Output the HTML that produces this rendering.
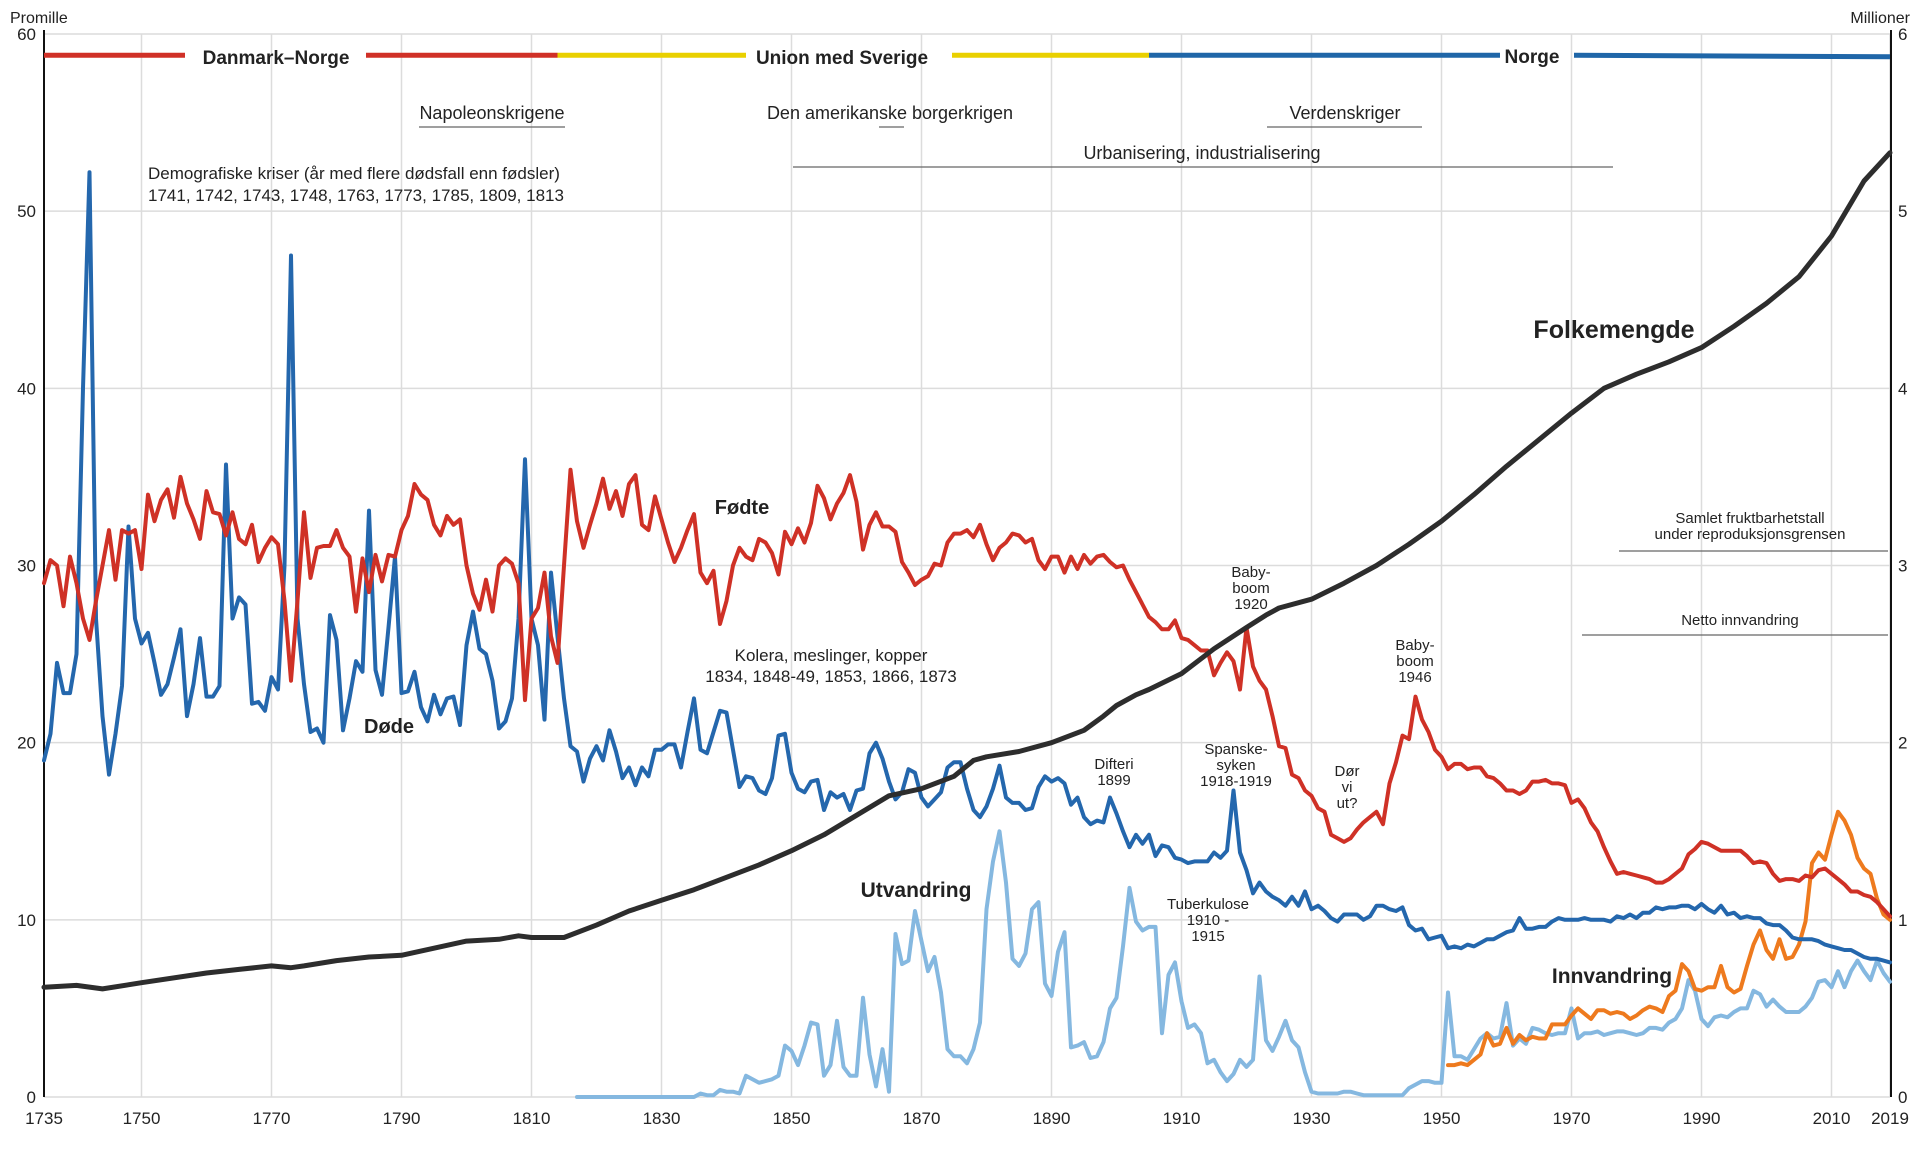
<!DOCTYPE html>
<html><head><meta charset="utf-8">
<style>
html,body{margin:0;padding:0;background:#fff}
svg{display:block}
text{font-family:"Liberation Sans",sans-serif;fill:#222}
</style></head>
<body>
<svg id="chart" width="1920" height="1155" xmlns="http://www.w3.org/2000/svg"></svg>
<script>
// ---- data ----
const startYear = 1735, endYear = 2019;
const xTicks = [1735,1750,1770,1790,1810,1830,1850,1870,1890,1910,1930,1950,1970,1990,2010,2019];
const yTicksLeft = [0,10,20,30,40,50,60];
const yTicksRight = [0,1,2,3,4,5,6];
const birthsStart = 1735;
const births = [
29,30.3,30,27.7,30.5,29,27,25.8,28,30,32,29.2,32,31.8,32,
29.8,34,32.5,33.7,34.3,32.7,35,33.5,32.6,31.5,34.2,33,32.9,31.7,33,31.5,31.2,32.3,30.2,31,
31.6,31.2,28,23.5,28,33,29.3,31,31.1,31.1,32,31,30.5,27.4,30.4,28.5,30.6,29.1,30.6,30.5,
32,32.8,34.6,34,33.7,32.3,31.7,32.8,32.3,32.6,30,28.4,27.5,29.2,27.4,30,30.4,30.1,29,22.4,
27,27.6,29.6,26,24.5,30,35.4,32.5,31,32.3,33.5,34.9,33.2,34.2,32.8,34.6,35.1,32.3,32,33.9,
32.6,31.3,30.2,31,32,32.9,29.6,29,29.7,26.7,28,30,31,30.5,30.3,31.5,31.3,30.7,29.5,31.9,
31.2,32.1,31.3,32.4,34.5,33.8,32.6,33.5,34.1,35.1,33.6,30.9,32.3,33,32.2,32.2,31.9,30.2,29.6,28.9,
29.2,29.4,30.1,30,31.3,31.8,31.8,32,31.6,32.3,31.2,30.3,31,31.3,31.8,31.7,31.3,31.5,30.3,29.8,
30.5,30.5,29.6,30.5,29.8,30.6,30.1,30.5,30.6,30.2,29.9,30,29.2,28.5,27.8,27.1,26.8,26.4,26.4,26.9,
25.9,25.8,25.5,25.2,25.2,23.8,24.5,25.1,24.6,23,26.5,24.3,23.5,23,21.5,19.8,19.7,18.2,18,17.3,
17,16.3,16.1,14.8,14.6,14.4,14.6,15.1,15.5,15.8,16.1,15.4,17.7,18.9,20.4,20.2,22.6,21.3,20.6,19.6,
19.2,18.5,18.8,18.8,18.5,18.6,18.6,18.1,18,17.7,17.3,17.3,17.1,17.3,17.8,17.8,17.9,17.7,17.7,17.6,
16.6,16.8,16.3,15.5,15,14.1,13.3,12.6,12.7,12.6,12.5,12.4,12.3,12.1,12.1,12.3,12.6,12.9,13.7,14,
14.4,14.3,14.1,13.9,13.9,13.9,13.9,13.6,13.2,13.3,13.2,12.6,12.2,12.3,12.3,12.2,12.5,12.4,12.8,12.9,
12.6,12.3,12,11.6,11.6,11.4,11.3,11,10.6,10.2];
const deathsStart = 1735;
const deaths = [
19,20.5,24.5,22.8,22.8,25,40,52.2,27,21.5,18.2,20.5,23.2,32.2,27,
25.6,26.2,24.5,22.7,23.3,24.8,26.4,21.5,23.3,25.9,22.6,22.6,23.2,35.7,27,28.2,27.8,22.2,22.3,21.8,
23.7,23,30,47.5,27,23.3,20.6,20.8,20,27.2,25.8,20.7,22.5,24.6,24,33.1,24.1,22.7,26.5,30.5,
22.8,22.9,24,22,21.2,22.7,21.6,22.5,22.6,21,25.5,27.4,25.3,25,23.5,20.8,21.2,22.5,27,36,
27,25.5,21.3,29.6,26,22.5,19.8,19.5,17.8,19.1,19.8,19,20.7,19.5,18,18.6,17.6,18.6,18.1,19.6,
19.6,19.9,19.9,18.6,20.6,22.5,19.6,19.4,20.6,21.8,21.7,19.6,17.5,18.1,18,17.3,17.1,18,20.4,20.5,
18.3,17.4,17.2,17.8,17.9,16.2,17.2,16.9,17.1,16.2,17.3,17.4,19.4,20,19.1,17.8,16.8,17.2,18.5,18.3,
16.9,16.4,16.8,17.2,18.6,18.9,18.9,17.4,16.2,15.8,16.4,17.4,18.7,16.9,16.6,16.6,16.2,16.3,17.5,18.1,
17.8,18,17.7,16.5,16.9,15.8,15.4,15.6,15.5,16.9,16,15,14.1,14.8,14.3,14.8,13.6,14.2,14.1,13.5,
13.4,13.2,13.3,13.3,13.3,13.8,13.5,13.9,17.3,13.8,12.8,11.5,12.1,11.6,11.3,11.1,10.8,11.3,10.8,11.6,
10.6,10.8,10.5,10.1,9.9,10.3,10.3,10.3,10,10.2,10.8,10.8,10.6,10.5,10.7,9.7,9.4,9.5,8.9,9,
9.1,8.4,8.5,8.4,8.6,8.5,8.7,8.9,8.9,9.1,9.3,9.4,10.1,9.5,9.5,9.6,9.6,9.9,10.1,10,
10,10,10.1,10,10,10,9.9,10.2,10.1,10.3,10.1,10.4,10.4,10.7,10.6,10.7,10.7,10.8,10.8,10.6,
10.9,10.6,10.4,10.8,10.3,10.4,10.1,10.2,10.1,10.1,9.8,9.7,9.7,9.4,9,8.9,8.9,8.9,8.8,8.6,
8.5,8.4,8.3,8.3,8.1,7.9,7.8,7.8,7.7,7.6];
const popYears = [1735,1740,1744,1750,1760,1765,1770,1773,1775,1780,1785,1790,1795,1800,1805,1808,1810,1815,1820,1825,1830,1835,1840,1845,1850,1855,1860,1865,1870,1875,1878,1880,1885,1890,1895,1898,1900,1903,1905,1910,1915,1920,1923,1925,1930,1935,1940,1945,1950,1955,1960,1965,1970,1975,1980,1985,1990,1995,2000,2005,2010,2015,2019];
const popMillions = [0.62,0.63,0.61,0.645,0.70,0.72,0.74,0.73,0.74,0.77,0.79,0.80,0.84,0.88,0.89,0.91,0.90,0.90,0.97,1.05,1.11,1.17,1.24,1.31,1.39,1.48,1.59,1.70,1.74,1.81,1.90,1.92,1.95,2.0,2.07,2.15,2.21,2.27,2.30,2.39,2.53,2.65,2.72,2.76,2.81,2.90,3.00,3.12,3.25,3.40,3.56,3.71,3.86,4.00,4.08,4.15,4.23,4.35,4.48,4.63,4.86,5.17,5.33];
const emigStart = 1817;
const emigration = [
0,0,0,0,0,0,0,0,0,0,0,0,0,0,0,0,0,0,0,0.2,0.1,0.1,0.4,0.3,0.3,0.2,1.2,1.0,0.8,0.9,1.0,1.2,2.9,
2.6,1.8,2.9,4.2,4.1,1.2,1.8,4.3,1.7,1.2,1.2,5.6,2.4,0.6,2.7,0.3,9.2,7.5,7.7,10.5,
8.8,7.1,7.9,5.9,2.7,2.3,2.3,1.9,2.7,4.2,10.6,13.3,15.0,12.1,7.8,7.4,8.1,10.6,11.0,6.4,
5.7,8.2,9.3,2.8,2.9,3.1,2.2,2.3,3.1,5.0,5.6,8.5,11.8,9.9,9.4,9.6,9.6,3.6,6.9,7.6,
5.4,3.9,4.1,3.6,1.9,2.1,1.4,0.9,1.3,2.1,1.7,2.1,6.8,3.2,2.6,3.4,4.3,3.2,2.8,1.4,
0.3,0.2,0.2,0.2,0.2,0.3,0.3,0.2,0.1,0.1,0.1,0.1,0.1,0.1,0.1,0.5,0.7,0.9,0.9,0.8,
0.8,5.9,2.3,2.3,2.1,2.7,3.3,3.6,3.3,3.4,5.3,2.9,3.3,3.0,3.9,3.8,3.6,3.5,3.6,3.6,
5.0,3.3,3.6,3.6,3.7,3.5,3.6,3.7,3.7,3.6,3.5,3.6,3.9,3.9,3.8,4.2,4.4,5.0,6.6,6.0,
4.4,4.0,4.5,4.6,4.5,4.8,5.0,5.0,6.0,5.8,5.1,5.5,5.1,4.8,4.8,4.8,5.1,5.6,6.5,6.6,
6.2,7.1,6.2,7.1,7.7,7.1,6.6,7.7,7.0,6.5];
const immigStart = 1951;
const immigration = [
1.8,1.8,1.9,1.8,2.1,2.4,3.6,2.9,3.0,3.9,3.0,3.5,3.2,3.4,3.3,3.3,4.1,4.1,4.1,
4.6,5.0,4.7,4.4,4.9,4.9,4.7,4.8,4.7,4.4,4.6,4.9,5.1,5.0,4.8,5.7,6.0,7.5,7.1,6.1,
6.0,6.2,6.2,7.4,6.2,5.9,6.1,7.4,8.6,9.4,8.3,7.8,8.9,7.8,7.9,8.6,9.9,13.2,13.8,13.4,
14.8,16.1,15.6,14.8,13.5,12.9,12.6,11.2,10.3,10.0];

// ---- axes ----
const X0 = 44, X1 = 1890, Y0 = 1097, YTOP = 34;
const sx = yr => X0 + (yr - startYear) / (endYear - startYear) * (X1 - X0);
const sy = v => Y0 - v / 60 * (Y0 - YTOP);
const syM = m => sy(m * 10);

const NS = "http://www.w3.org/2000/svg";
const svg = document.getElementById('chart');
function mk(tag, attrs, parent) {
  const e = document.createElementNS(NS, tag);
  for (const k in attrs) e.setAttribute(k, attrs[k]);
  (parent || svg).appendChild(e);
  return e;
}
function txt(x, y, s, size, anchor, weight, name) {
  const t = mk('text', {x: x, y: y, 'font-size': size, 'text-anchor': anchor || 'start', 'font-weight': weight || 'normal'});
  t.textContent = s;
  
  
  return t;
}

// grid
const grid = mk('g', {});


yTicksLeft.forEach(v => {
  const l = mk('line', {x1: X0, x2: X1, y1: sy(v), y2: sy(v), stroke: '#dcdcdc', 'stroke-width': 1.5}, grid);
  
  
});
xTicks.forEach(yr => {
  if (yr === startYear) return;
  const l = mk('line', {x1: sx(yr), x2: sx(yr), y1: YTOP, y2: Y0, stroke: '#dcdcdc', 'stroke-width': 1.5}, grid);
  
  
});

// axes lines
const la = mk('line', {x1: X0, x2: X0, y1: YTOP - 4, y2: Y0, stroke: '#111', 'stroke-width': 2});


const ra = mk('line', {x1: X1 + 1, x2: X1 + 1, y1: YTOP - 4, y2: Y0, stroke: '#111', 'stroke-width': 2});



yTicksLeft.forEach(v => txt(36, sy(v) + 6, String(v), 17, 'end', 'normal', 'y-tick-left'));
yTicksRight.forEach(v => txt(1898, syM(v) + 6, String(v), 17, 'start', 'normal', 'y-tick-right'));
xTicks.forEach(yr => txt(sx(yr), 1124, String(yr), 17, 'middle', 'normal', 'x-tick'));
txt(10, 23, 'Promille', 16, 'start', 'normal', 'left-axis-title');
txt(1910, 23, 'Millioner', 16, 'end', 'normal', 'right-axis-title');

// era band
function seg(x1, x2, y1, y2, col, name) {
  const l = mk('line', {x1: x1, x2: x2, y1: y1, y2: y2, stroke: col, 'stroke-width': 5});
  
  
}
const bandY = 58.8;
seg(X0, 185, sy(bandY), sy(bandY), '#d03027', 'era-danmark-norge');
seg(366, sx(1814), sy(bandY), sy(bandY), '#d03027', 'era-danmark-norge');
seg(sx(1814), 746, sy(bandY), sy(bandY), '#e9d000', 'era-union-sverige');
seg(952, sx(1905), sy(bandY), sy(bandY), '#e9d000', 'era-union-sverige');
seg(sx(1905), 1500, sy(bandY), sy(bandY), '#1f66a8', 'era-norge');
seg(1574, X1, sy(bandY), sy(bandY) + 1.5, '#1f66a8', 'era-norge');
txt(276, 64, 'Danmark–Norge', 19, 'middle', 'bold', 'era-label-danmark-norge');
txt(842, 64, 'Union med Sverige', 19, 'middle', 'bold', 'era-label-union');
txt(1532, 63, 'Norge', 19, 'middle', 'bold', 'era-label-norge');

// period annotations
function hl(x1, x2, y, name) {
  const l = mk('line', {x1: x1, x2: x2, y1: y, y2: y, stroke: '#666', 'stroke-width': 1.2});
  
  
}
txt(492, 119, 'Napoleonskrigene', 18, 'middle', 'normal', 'napoleon-label');
hl(419, 565, 127, 'napoleon-line');
txt(890, 119, 'Den amerikanske borgerkrigen', 18, 'middle', 'normal', 'civil-war-label');
hl(879, 904, 127, 'civil-war-line');
txt(1345, 119, 'Verdenskriger', 18, 'middle', 'normal', 'world-wars-label');
hl(1267, 1422, 127, 'world-wars-line');
txt(1202, 159, 'Urbanisering, industrialisering', 18, 'middle', 'normal', 'urbanisation-label');
hl(793, 1613, 167, 'urbanisation-line');
txt(148, 179, 'Demografiske kriser (år med flere dødsfall enn fødsler)', 17, 'start', 'normal', 'crisis-label');
txt(148, 201, '1741, 1742, 1743, 1748, 1763, 1773, 1785, 1809, 1813', 17, 'start', 'normal', 'crisis-years');
txt(1750, 523, 'Samlet fruktbarhetstall', 15, 'middle', 'normal', 'fertility-label');
txt(1750, 539, 'under reproduksjonsgrensen', 15, 'middle', 'normal', 'fertility-label-2');
hl(1619, 1888, 551, 'fertility-line');
txt(1740, 625, 'Netto innvandring', 15, 'middle', 'normal', 'net-immigration-label');
hl(1582, 1888, 635, 'net-immigration-line');

// series
function poly(points, color, width, name) {
  const p = mk('polyline', {points: points.map(q => q[0].toFixed(1) + ',' + q[1].toFixed(1)).join(' '), fill: 'none', stroke: color, 'stroke-width': width, 'stroke-linejoin': 'round', 'stroke-linecap': 'round'});
  
  
}
poly(emigration.map((v, i) => [sx(emigStart + i), sy(v)]), '#85b8e0', 4, 'emigration-line');
poly(immigration.map((v, i) => [sx(immigStart + i), sy(v)]), '#ee7a1e', 4, 'immigration-line');
poly(deaths.map((v, i) => [sx(deathsStart + i), sy(v)]), '#2467ad', 4, 'deaths-line');
poly(births.map((v, i) => [sx(birthsStart + i), sy(v)]), '#cf3126', 4, 'births-line');
poly(popMillions.map((v, i) => [sx(popYears[i]), syM(v)]), '#2d2d2d', 5, 'population-line');

// series labels
txt(1614, 338, 'Folkemengde', 25, 'middle', 'bold', 'population-label');
txt(742, 514, 'Fødte', 20, 'middle', 'bold', 'births-label');
txt(389, 733, 'Døde', 20, 'middle', 'bold', 'deaths-label');
txt(916, 897, 'Utvandring', 21, 'middle', 'bold', 'emigration-label');
txt(1612, 983, 'Innvandring', 21, 'middle', 'bold', 'immigration-label');

// event annotations
function multi(x, y, lines, name) {
  lines.forEach((s, i) => txt(x, y + i * 16, s, 15, 'middle', 'normal', name));
}
txt(831, 661, 'Kolera, meslinger, kopper', 17, 'middle', 'normal', 'cholera-label');
txt(831, 682, '1834, 1848-49, 1853, 1866, 1873', 17, 'middle', 'normal', 'cholera-years');
multi(1251, 577, ['Baby-', 'boom', '1920'], 'babyboom-1920-label');
multi(1415, 650, ['Baby-', 'boom', '1946'], 'babyboom-1946-label');
multi(1114, 769, ['Difteri', '1899'], 'diphtheria-label');
multi(1236, 754, ['Spanske-', 'syken', '1918-1919'], 'spanish-flu-label');
multi(1347, 776, ['Dør', 'vi', 'ut?'], 'dying-out-label');
multi(1208, 909, ['Tuberkulose', '1910 -', '1915'], 'tuberculosis-label');
</script>
</body></html>
